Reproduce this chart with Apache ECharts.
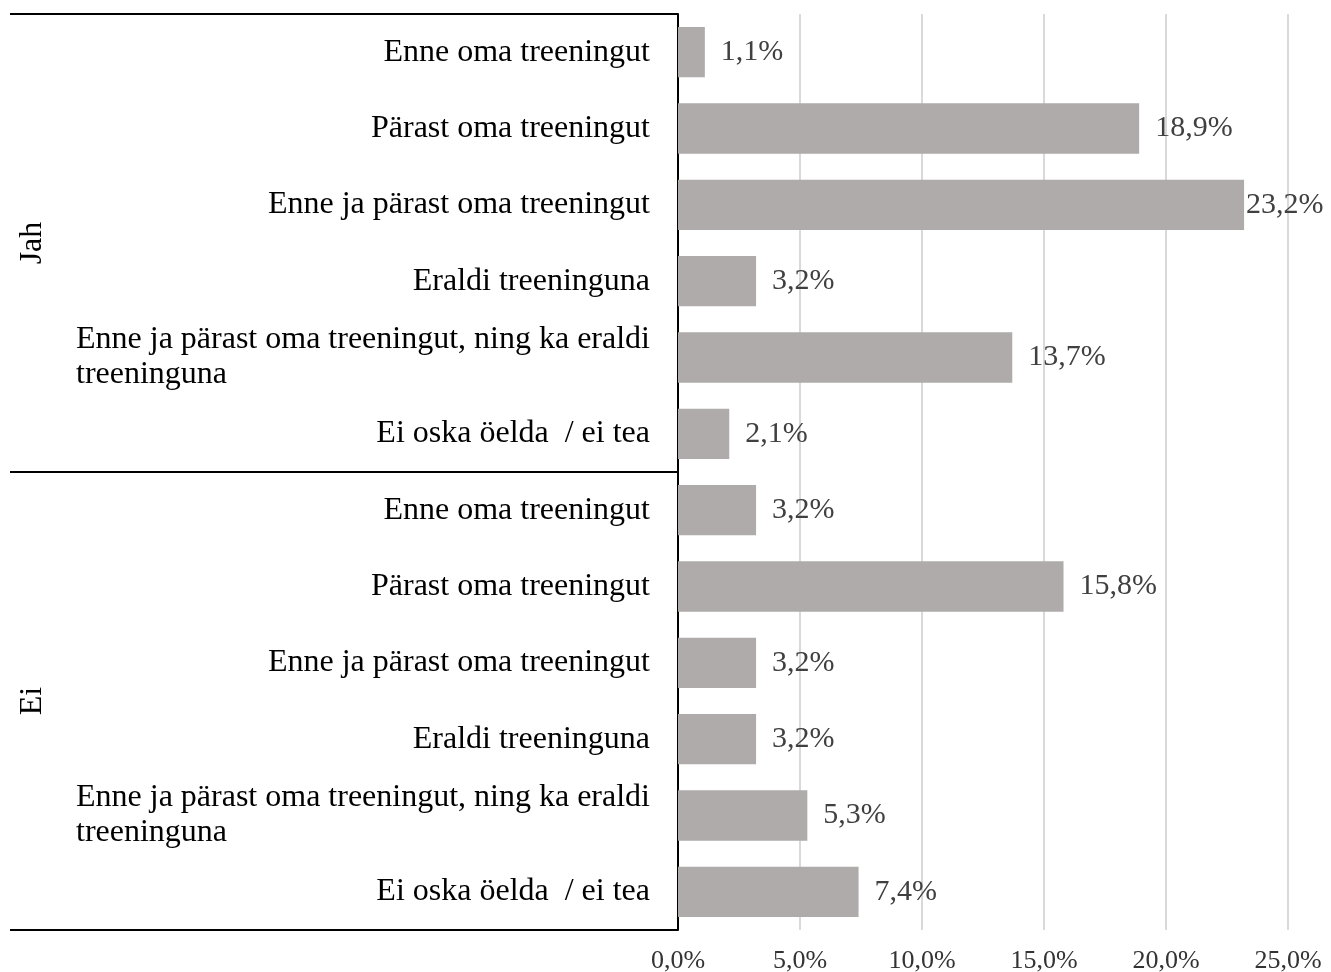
<!DOCTYPE html>
<html>
<head>
<meta charset="utf-8">
<script src="https://cdn.jsdelivr.net/npm/echarts@6/dist/echarts.min.js"></script>
<style>
  html, body { margin: 0; padding: 0; background: #fff; }
  #chart { width: 1331px; height: 972px; }
</style>
</head>
<body>
<div id="chart"></div>
<script>
var groups = ['Jah', 'Ei'];
var categories = [
    'Enne oma treeningut',
    'Pärast oma treeningut',
    'Enne ja pärast oma treeningut',
    'Eraldi treeninguna',
    'Enne ja pärast oma treeningut, ning ka eraldi\ntreeninguna',
    'Ei oska öelda  / ei tea',
    'Enne oma treeningut',
    'Pärast oma treeningut',
    'Enne ja pärast oma treeningut',
    'Eraldi treeninguna',
    'Enne ja pärast oma treeningut, ning ka eraldi\ntreeninguna',
    'Ei oska öelda  / ei tea'
];
var values = [1.1, 18.9, 23.2, 3.2, 13.7, 2.1, 3.2, 15.8, 3.2, 3.2, 5.3, 7.4];
var xTicks = { min: 0, max: 25, interval: 5 };

var serif = '"Liberation Serif", "Times New Roman", serif';
function pct(v) { return Number(v).toFixed(1).replace('.', ',') + '%'; }

var maxVal = Math.max.apply(null, values);
var barData = values.map(function (v) {
    // the longest bar's label sits tight against the bar end
    return v === maxVal ? { value: v, label: { distance: 2 } } : v;
});

var chart = echarts.init(document.getElementById('chart'));
var option = {
    animation: false,
    grid: { left: 678, right: 43, top: 14, bottom: 42, containLabel: false, outerBoundsMode: 'none' },
    xAxis: {
        type: 'value',
        min: xTicks.min,
        max: xTicks.max,
        interval: xTicks.interval,
        axisLine: { show: false },
        axisTick: { show: false },
        splitLine: { show: true, lineStyle: { color: '#d9d9d9', width: 2 } },
        axisLabel: {
            margin: 18,
            fontSize: 26,
            fontFamily: serif,
            color: '#333',
            formatter: pct
        }
    },
    yAxis: [
        {
            type: 'category',
            inverse: true,
            data: categories,
            axisLine: { show: true, lineStyle: { color: '#000', width: 2 } },
            axisTick: { show: false },
            axisLabel: {
                margin: 28,
                fontSize: 32,
                fontFamily: serif,
                color: '#000',
                lineHeight: 35,
                formatter: function (val) {
                    if (val.indexOf('\n') < 0) return val;
                    return val.split('\n').map(function (s) { return '{l|' + s + '}'; }).join('\n');
                },
                rich: {
                    l: { align: 'left', fontSize: 32, fontFamily: serif, color: '#000', lineHeight: 35 }
                }
            }
        },
        {
            type: 'category',
            inverse: true,
            position: 'left',
            offset: 668,
            data: groups,
            axisLine: { show: false },
            axisTick: { show: true, inside: true, length: 668, lineStyle: { color: '#000', width: 2 } },
            splitLine: { show: false },
            axisLabel: {
                inside: true,
                rotate: 90,
                margin: 7,
                fontSize: 32,
                fontFamily: serif,
                color: '#000'
            }
        }
    ],
    series: [
        {
            type: 'bar',
            yAxisIndex: 0,
            data: barData,
            barCategoryGap: '34%',
            itemStyle: { color: '#aeabaa' },
            label: {
                show: true,
                position: 'right',
                distance: 16,
                fontSize: 30,
                fontFamily: serif,
                color: '#404040',
                formatter: function (p) { return pct(p.value); }
            }
        }
    ]
};
chart.setOption(option);
</script>
</body>
</html>
